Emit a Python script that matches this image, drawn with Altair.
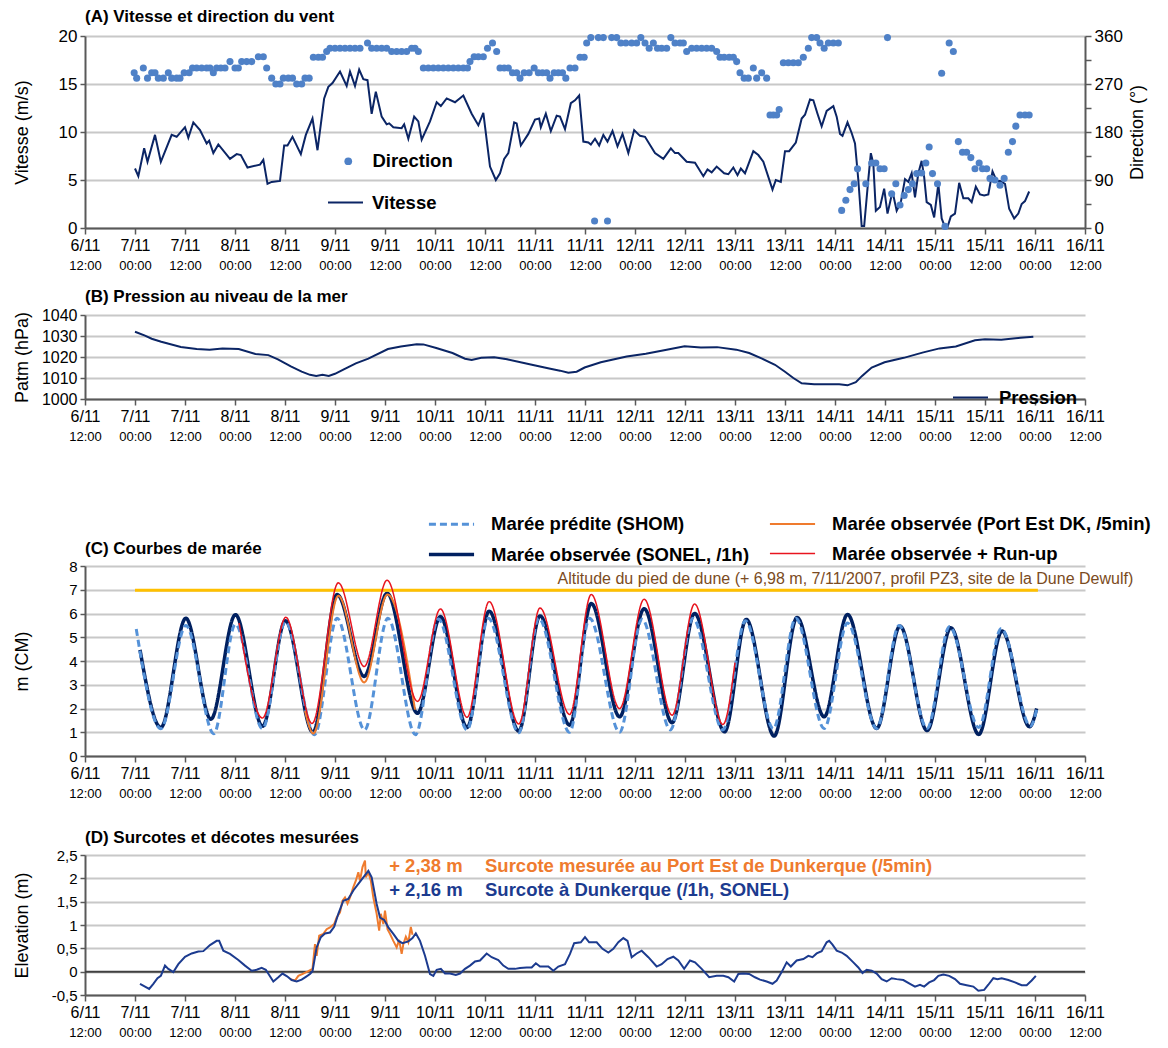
import altair as alt
import pandas as pd

FONT = "Liberation Sans"
W = 1000
AX = "#595959"
GRID = "#c8c8c8"

# ---------------- x ticks (hours since 6/11/2007 12:00) ----------------
tick_hours = list(range(0, 241, 12))

# ---------------- Panel A : wind ----------------
wind_h = [12, 12.8, 14.2, 15, 16.8, 18.2, 20.8, 22, 24, 24.8, 26, 27.6, 29.2, 29.8, 30.8, 32, 34.8, 36.4, 37.4, 39,
          42, 42.8, 43.8, 44.8, 46.8, 47.8, 48.6, 49.8, 51.8, 53, 54.6, 55.8, 57.4, 58.4, 59.4, 61.2, 62.8, 63.6,
          64.8, 65.8, 66.8, 67.8, 68.8, 69.8, 71.2, 72.4, 73, 74, 76, 76.6, 77.6, 79, 80, 80.8, 82.8, 84.4, 85.4,
          86.8, 88.8, 90.8, 92.8, 94.4, 95.6, 97.2, 98.6, 99.6, 100.6, 101.6, 103, 103.6, 104.6, 106.4, 108, 109,
          109.4, 110.6, 111.8, 113.2, 114, 115.2, 116.6, 117.6, 118.6, 119.6, 120.8, 121.4, 122.4, 123.4, 124.4,
          125.4, 126.6, 127.8, 129, 130.4, 131.8, 133.2, 134.4, 136.8, 138.8, 140.6, 141.6, 142.4, 144.4, 146.4,
          148.4, 149.4, 150.4, 151.6, 153.4, 154.4, 155.6, 156.6, 157.4, 158.4, 160.4, 161.6, 162.8, 165, 165.8,
          167, 168, 169, 170.6, 172, 172.8, 174, 174.8, 175.8, 176.8, 178, 179.6, 180.4, 181.2, 181.8, 183, 184,
          184.8, 185.6, 186.4, 187, 188, 188.6, 189.2, 189.8, 190.8, 191.8, 192.6, 193.8, 194.8, 195.8, 196.8,
          197.6, 198.4, 199.2, 200, 200.8, 201.4, 202, 203, 203.8, 204.8, 205.6, 206.4, 207, 207.8, 208.8, 209.8,
          210.8, 212, 212.8, 213.8, 214.8, 215.8, 216.8, 217.8, 218.8, 219.6, 220.8, 221.8, 223, 224, 224.8,
          225.6, 226.6]
wind_v = [6.2, 5.4, 8.3, 6.9, 9.7, 6.9, 9.7, 9.5, 10.5, 9.4, 11.0, 10.2, 8.8, 9.1, 7.8, 8.7, 7.2, 7.7, 7.6, 6.3,
          6.6, 7.1, 4.6, 4.8, 4.9, 8.6, 8.6, 9.5, 7.7, 9.7, 11.4, 8.1, 13.5, 14.7, 15.1, 16.3, 14.8, 16.3,
          14.8, 16.5, 15.5, 15.4, 11.9, 14.2, 11.6, 10.8, 10.9, 10.5, 10.4, 10.8, 9.3, 11.6, 11.1, 9.2, 11.1, 13.1,
          12.7, 13.5, 13.1, 13.8, 11.9, 10.7, 12.0, 6.4, 5.0, 5.7, 7.2, 7.8, 11.0, 10.9, 8.6, 9.8, 11.3, 11.4,
          10.5, 11.9, 10.1, 11.7, 11.6, 10.3, 13.0, 13.3, 13.8, 9.0, 8.9, 8.7, 9.3, 8.6, 9.7,
          9.0, 10.1, 8.5, 9.8, 7.8, 10.2, 9.6, 9.5, 7.8, 7.2, 8.3, 7.8, 7.8, 6.9, 6.8,
          5.4, 6.1, 5.8, 6.4, 5.7, 5.6, 6.3, 5.5, 6.2, 5.7, 8.0, 7.6, 6.9, 4.0, 5.0,
          4.8, 8.0, 8.0, 8.9, 11.4, 11.8, 13.4, 13.3, 11.9, 10.6, 12.2, 12.7, 11.6, 9.8, 9.6, 11.0, 9.9,
          8.8, 5.0, 0.2, 0.2, 5.1, 7.8, 6.7, 1.8, 2.2, 4.1, 1.5, 3.8, 1.8, 2.7, 5.1,
          4.8, 5.7, 3.2, 5.7, 7.0, 5.3, 2.7, 2.4, 1.1, 4.6, 1.0, 0.1, 0.1, 1.2, 1.5, 4.7,
          3.1, 3.1, 2.7, 4.3, 3.5, 3.4, 3.5, 5.9, 4.9, 4.9, 4.6, 2.0, 1.0, 1.5, 2.5,
          2.8, 3.8]

dir_h = [11.8, 12.4, 14, 15, 16, 16.8, 17.6, 18.8, 20, 20.8, 22, 22.8, 23.8, 25, 25.8, 26.8, 28, 29.2, 30, 30.8,
         31.6, 32.6, 33.6, 34.8, 36, 36.8, 37.6, 38.8, 40, 41.6, 42.8, 43.6, 44.8, 45.8, 46.8, 47.6, 48.8, 49.8,
         50.8, 52, 52.8, 53.8, 54.8, 56, 57, 58, 58.8, 60, 61.2, 62.4, 63.6, 64.8, 66, 67.8, 68.8, 70, 71.2, 72.4,
         73.6, 74.8, 76, 77.2, 78.4, 79.2, 80, 81.2, 82.4, 83.6, 84.8, 86, 87.2, 88.4, 89.6, 90.8, 91.8, 92.4,
         93.4, 94.4, 95.6, 96.6, 97.8, 98.8, 99.6, 100.6, 101.6, 102.6, 103.6, 104.4, 105.4, 106.6, 107.8, 108.8,
         109.8, 110.8, 111.6, 112.6, 113.6, 114.6, 115.4, 116.4, 117.6, 118.8, 119.8, 120.4, 121.4, 122.3, 123.2,
         124.4, 125.4, 126.4, 127.6, 128.6, 129.8, 131.2, 132.4, 133.4, 134.4, 135.4, 136.4, 137.4, 138.4, 139.6,
         140.6, 141.6, 142.8, 143.6, 144.4, 145.6, 146.8, 148, 149.2, 150.4, 151.6, 152.4, 153.4, 154.6, 155.6,
         156.4, 157.2, 158.2, 159.2, 160.4, 161.2, 162.4, 163.6, 164.4, 165.2, 166, 166.6, 167.6, 168.8, 170,
         171.2, 172.4, 173.6, 174.4, 175.6, 176.4, 177.4, 178.4, 179.6, 180.8, 181.6, 182.6, 183.6, 184.6, 185.4,
         187.4, 188.8, 189.8, 190.8, 191.8, 192.6, 193.6, 194.6, 195.6, 196.6, 197.6, 198.6, 199.6, 200.8, 201.8,
         202.6, 203.4, 204.6, 205.6, 206.4, 207.4, 208.4, 209.6, 210.6, 211.6, 212.6, 213.6, 214.6, 215.4, 216.4,
         217.2, 218.4, 219.6, 220.6, 221.6, 222.6, 223.4, 224.4, 225.6, 226.6]
dir_d = [291, 281, 300, 281, 291, 291, 281, 281, 291, 281, 281, 281, 291, 291, 300, 300, 300, 300, 300, 291,
         300, 300, 300, 312, 300, 300, 312, 312, 312, 321, 321, 300, 281, 270, 270, 281, 281, 281,
         270, 270, 281, 281, 320, 320, 320, 331, 337, 337, 337, 337, 337, 337, 337, 347, 337, 337, 337, 337,
         331, 331, 331, 331, 337, 337, 331, 300, 300, 300, 300, 300, 300, 300, 300, 300, 300, 312,
         321, 321, 321, 337, 347, 331, 300, 300, 300, 291, 291, 281, 291, 291, 300, 291,
         291, 291, 281, 291, 291, 291, 281, 300, 300, 320, 320, 347, 357, 13, 357,
         357, 13, 357, 357, 347, 347, 347, 347, 357, 347, 337, 347, 337, 337, 337,
         357, 347, 347, 347, 331, 337, 337, 337, 337, 337, 331, 320, 320, 320, 320,
         312, 291, 281, 281, 300, 281, 291, 281, 212, 212, 212, 222, 310, 310, 310,
         310, 320, 337, 357, 357, 347, 337, 347, 347, 347, 33, 52, 72, 83, 111,
         83, 122, 122, 111, 111, 357, 64, 83, 43, 61, 72, 83, 102, 103, 122,
         152, 102, 83, 290, 3, 347, 331, 162, 142, 142, 132, 111, 122, 111, 111,
         93, 90, 80, 93, 142, 162, 191, 212, 212, 212]

# ---------------- Panel B : pressure ----------------
pres_h = [12, 14.4, 16, 18.3, 23, 26.8, 29.9, 33, 36.9, 40.9, 44, 46.3, 49.4, 52, 54, 55.5, 57, 58.5, 60, 62, 65,
          68, 72.7, 75.8, 79.6, 81.2, 84.3, 88.2, 91.2, 92.8, 95.1, 98.2, 101.3, 106.7, 111.4, 114, 116, 118,
          119.9, 123.8, 130, 134.6, 139.3, 143.9, 147.8, 151.7, 156.3, 159.4, 162.5, 165.6, 168, 170, 172, 175,
          178, 181, 183, 185, 186.5, 188.8, 191.9, 196.5, 201.2, 205.1, 209, 213.6, 216, 219.9, 224.5, 227.6]
pres_p = [1032, 1030.2, 1028.7, 1027.3, 1024.8, 1023.8, 1023.5, 1024, 1023.8, 1021.4, 1020.9, 1018.9, 1015.5,
          1013, 1011.5, 1011, 1011.5, 1011, 1012, 1014, 1017, 1019.2, 1023.8, 1025, 1026.1, 1026, 1024.3, 1021.9,
          1019.2, 1018.6, 1019.6, 1019.9, 1018.9, 1016.5, 1014.5, 1013.5, 1012.5, 1013, 1015, 1017.5, 1020.2,
          1021.6, 1023.3, 1025.1, 1024.5, 1024.7, 1023.5, 1021.9, 1019.2, 1016.3, 1013, 1010, 1007.5, 1007, 1007,
          1007, 1006.5, 1008, 1011, 1015, 1017.5, 1019.6, 1022.2, 1024.1, 1025, 1028, 1028.4, 1028.2, 1029.2,
          1029.7]

# ---------------- Panel C : tides (extrema) ----------------
shom_h = [12.3, 18.2, 24.2, 30.9, 36.1, 42.6, 48.1, 55.1, 60.5, 67.1, 72.7, 79.3, 84.8, 91.7, 96.8, 104.1, 108.9,
          116.3, 121.1, 128.3, 133.7, 140.5, 145.9, 153.1, 158.5, 165.2, 170.6, 177.4, 183, 190, 195.4, 202.1,
          207.5, 214.5, 219.9, 226.9, 228.4]
shom_m = [5.35, 1.15, 5.5, 0.94, 5.55, 1.15, 5.65, 0.9, 5.8, 1.1, 5.8, 0.9, 5.77, 1.1, 5.8, 0.98, 5.8,
          1.0, 5.8, 1.0, 5.76, 1.1, 5.8, 1.1, 5.7, 1.15, 5.8, 1.16, 5.6, 1.16, 5.5, 1.16,
          5.45, 1.2, 5.37, 1.26, 1.96]
sonel_h = [13.2, 18.2, 24.2, 30.2, 36.1, 42.6, 48.1, 54.7, 60.5, 67, 72.5, 79.8, 85.3, 91.7, 97, 104.1, 109.2,
           116.3, 121.5, 128.3, 134.2, 140.9, 146.3, 153.5, 158.7, 165.4, 170.9, 177.4, 183, 190, 195.6, 202.1,
           207.8, 214.5, 220.1, 226.7, 228.4]
sonel_m = [4.47, 1.2, 5.8, 1.55, 5.95, 1.25, 5.7, 1.0, 6.8, 3.35, 6.85, 1.8, 5.87, 1.2, 6.1, 1.05, 5.9,
           1.3, 6.42, 1.65, 6.2, 1.4, 6.0, 1.02, 5.75, 0.84, 5.83, 1.65, 5.96, 1.16, 5.47, 1.07,
           5.4, 0.91, 5.26, 1.23, 2.0]
port_h = [52.8, 54.8, 60.8, 67, 72.6, 79.2]
port_m = [1.9, 0.95, 6.75, 3.1, 6.8, 1.95]
runup_h = [37, 42.6, 48.2, 54.5, 60.8, 67, 72.5, 79.8, 85.3, 91.7, 97, 104.1, 109.2, 116.3, 121.5, 128.3, 134.2,
           140.9, 146.3, 153.1, 156]
runup_m = [5.6, 1.6, 5.84, 1.37, 7.29, 3.77, 7.4, 2.3, 6.19, 1.63, 6.5, 1.35, 6.23, 1.75, 6.8, 2.0, 6.6,
           1.72, 6.4, 1.33, 3.93]
dune_start = [12]
dune_end = [228.7]
dune_level = [6.98]
dune_text = ["Altitude du pied de dune (+ 6,98 m, 7/11/2007, profil PZ3, site de la Dune Dewulf)"]
dune_text_h = [182.5]

# legend order (column-major in a 2-column legend)
tide_series = ["Marée prédite (SHOM)", "Marée observée (SONEL, /1h)",
               "Marée observée (Port Est DK, /5min)", "Marée observée + Run-up"]
tide_colors = ["#5592d8", "#002060", "#ef7b2e", "#e8141e"]
tide_dash = [[7, 4], [1, 0], [1, 0], [1, 0]]
tide_width = [3, 3.5, 2, 1.5]

# ---------------- Panel D : surges ----------------
surge_h = [13.2, 14.4, 15.4, 16.4, 17.4, 18.2, 19.2, 20, 21.2, 22.4, 24, 25.6, 27.2, 28.4, 30, 31.6, 32.2, 33.2,
           34.8, 36.8, 38.4, 40, 41.2, 42.4, 43.4, 44.2, 45.2, 46.4, 47.4, 48.5, 49.6, 50.8, 52, 53, 54, 54.6,
           55.6, 56.6, 57.6, 58.8, 59.8, 60.8, 62, 63.2, 64.4, 65.6, 66.8, 68, 68.8, 70, 70.8, 71.8, 72.8, 74,
           75.2, 76.2, 77.6, 78.6, 79.4, 80.4, 81.6, 82.8, 83.6, 84.4, 85.4, 86.4, 87.6, 89, 90, 91.2, 92.4, 93.6,
           94.8, 96.4, 97.6, 99.2, 100.4, 101.6, 103.2, 104.4, 106, 107.2, 108.2, 109.2, 111.2, 112.4, 113.6,
           115.2, 116.4, 117.4, 119, 120, 121, 122.8, 124.2, 125.6, 126.8, 128, 129.2, 130.2, 131.2, 132.4,
           133.6, 135.2, 137.2, 138.4, 139.8, 141.2, 142.4, 143.8, 145.2, 146.4, 148, 149.8, 151.6, 153.2, 154.4,
           155.8, 156.8, 158, 159.4, 160.8, 162, 163.6, 165, 166, 167.2, 168.4, 169.4, 170.8, 172.4, 173.6,
           174.6, 175.6, 176.8, 178, 178.6, 179.4, 180.4, 181.6, 182.8, 184.4, 185.6, 186.6, 187.6, 188.8, 190,
           191.2, 192.4, 193.6, 194.8, 196.4, 198, 199.2, 200.4, 201.4, 202.6, 203.8, 204.8, 206, 207.4, 208.8,
           210, 211.6, 213.2, 214.4, 215.8, 216.8, 218, 219, 220, 221.6, 223.2, 224.8, 226, 227.2, 228.2]
surge_e = [-0.26, -0.32, -0.37, -0.26, -0.14, -0.09, 0.13, 0.06, -0.01, 0.16, 0.32, 0.39, 0.43, 0.44, 0.57, 0.66,
           0.66, 0.45, 0.38, 0.25, 0.13, 0.02, 0.04, 0.08, 0.04, -0.07, -0.21, -0.12, -0.04, -0.1, -0.18, -0.21,
           -0.17, -0.11, -0.05, 0.01, 0.52, 0.74, 0.82, 0.84, 0.96, 1.24, 1.52, 1.56, 1.74, 1.88, 2.02, 2.16,
           2.02, 1.45, 1.16, 1.11, 0.95, 0.81, 0.66, 0.61, 0.65, 0.72, 0.82, 0.66, 0.34, -0.05, -0.09, 0.04,
           0.06, -0.04, -0.04, -0.07, -0.04, 0.06, 0.13, 0.22, 0.24, 0.39, 0.31, 0.25, 0.13, 0.06, 0.06, 0.08,
           0.09, 0.09, 0.18, 0.11, 0.11, 0.02, 0.11, 0.16, 0.38, 0.61, 0.63, 0.74, 0.63, 0.63, 0.49, 0.41, 0.49,
           0.63, 0.72, 0.66, 0.31, 0.39, 0.45, 0.31, 0.11, 0.16, 0.27, 0.32, 0.24, 0.06, 0.24, 0.2, 0.06, -0.12,
           -0.09, -0.09, -0.12, -0.21, -0.05, -0.04, -0.05, -0.12, -0.17, -0.21, -0.26, -0.19, -0.01, 0.2, 0.11,
           0.24, 0.27, 0.34, 0.31, 0.39, 0.44, 0.63, 0.66, 0.58, 0.45, 0.41, 0.34, 0.2, 0.09, -0.03, 0.04, 0.02,
           -0.04, -0.16, -0.21, -0.14, -0.16, -0.18, -0.26, -0.32, -0.28, -0.32, -0.23, -0.18, -0.09, -0.06,
           -0.09, -0.16, -0.26, -0.29, -0.32, -0.41, -0.39, -0.28, -0.14, -0.16, -0.14, -0.18, -0.23, -0.29,
           -0.29, -0.19, -0.09]
port_surge_h = [49.2, 50.4, 51.2, 52.4, 53.6, 54.6, 55.2, 55.6, 56.2, 57.2, 58, 58.8, 59.8, 60.4, 61.2, 61.8, 62.4,
                63, 63.6, 64.4, 65, 65.6, 66, 66.6, 67.2, 67.4, 68, 68.6, 69.2, 70, 70.6, 71, 71.6, 72, 72.6,
                73.2, 74, 74.8, 75.4, 76, 76.4, 77, 77.6, 78.2, 78.6]
port_surge_e = [-0.16, -0.19, -0.09, -0.04, 0.01, 0.06, 0.59, 0.34, 0.77, 0.81, 0.91, 0.95, 1.02, 1.16, 1.27, 1.52,
                1.59, 1.46, 1.59, 1.81, 1.95, 2.13, 1.95, 2.24, 2.38, 2.02, 2.13, 1.95, 1.59, 1.24, 0.88, 1.24,
                1.02, 1.31, 0.91, 0.81, 0.66, 0.52, 0.68, 0.38, 0.59, 0.75, 0.63, 0.96, 0.79]
ann_d_text = ["+ 2,38 m", "Surcote mesurée au Port Est de Dunkerque (/5min)", "+ 2,16 m",
              "Surcote à Dunkerque (/1h, SONEL)"]
ann_d_h = [73.0, 96.0, 73.0, 96.0]
ann_d_e = [2.26, 2.26, 1.74, 1.74]
ann_d_color = ["#ef7b2e", "#ef7b2e", "#1c3b8f", "#1c3b8f"]

# ---------------- helpers ----------------
xscale = alt.Scale(domain=[0, 240], nice=False, zero=False)
DATE_EXPR = "(6 + floor((datum.value + 12) / 24)) + '/11'"
TIME_EXPR = "datum.value % 24 == 0 ? '12:00' : '00:00'"


def x_date_axis():
    return alt.Axis(values=tick_hours, labelExpr=DATE_EXPR, title=None, grid=False, orient="bottom",
                    domainColor=AX, domainWidth=2, tickColor=AX, tickWidth=1.5, tickSize=6,
                    labelFontSize=16, labelPadding=3, labelFlush=False, labelOverlap=False)


def time_layer(space=0):
    df = pd.DataFrame({"h": tick_hours})
    kw = dict(values=tick_hours, labelExpr=TIME_EXPR, grid=False, orient="bottom",
              domain=False, ticks=False, tickSize=0, labelFontSize=13, labelPadding=31,
              labelFlush=False, labelOverlap=False)
    if space:
        kw.update(title="\u00a0", titleFontSize=1, titlePadding=space)
    else:
        kw.update(title=None)
    return alt.Chart(df).mark_point(opacity=0).encode(
        x=alt.X("h:Q", scale=xscale, axis=alt.Axis(**kw)))


def y_axis(values, title, label_size=16, label_expr=None, grid=True, fmt=None):
    kw = dict(values=values, title=title, grid=grid, gridColor=GRID, gridWidth=2, orient="left",
              domainColor=AX, domainWidth=2, tickColor=AX, tickWidth=1.5, tickSize=5,
              labelFontSize=label_size, labelPadding=3, labelOverlap=False, labelFlush=False,
              titleFontSize=18, titleFontWeight="normal",
              titleAngle=270, titleX=-58, titleBaseline="alphabetic")
    if label_expr:
        kw["labelExpr"] = label_expr
    if fmt:
        kw["format"] = fmt
    return alt.Axis(**kw)


def ptitle(text, offset=1):
    return alt.TitleParams(text=text, anchor="start", frame="group", fontSize=17, fontWeight="bold",
                           font=FONT, offset=offset, color="black")


# ---------------- Panel A ----------------
dfw = pd.DataFrame({"h": wind_h, "v": wind_v, "s": "Vitesse"})
dfd = pd.DataFrame({"h": dir_h, "d": dir_d, "s": "Direction"})

line_a = alt.Chart(dfw).mark_line(strokeWidth=2).encode(
    x=alt.X("h:Q", scale=xscale, axis=x_date_axis()),
    y=alt.Y("v:Q", scale=alt.Scale(domain=[0, 20], nice=False),
            axis=y_axis([0, 5, 10, 15, 20], "Vitesse (m/s)", label_size=17)),
    stroke=alt.Stroke("s:N", scale=alt.Scale(domain=["Vitesse"], range=["#0b2565"]),
                      legend=alt.Legend(orient="none", legendX=242, legendY=148, title=None, symbolType="stroke",
                                        symbolSize=1225, symbolStrokeWidth=2, labelFontSize=18.5,
                                        labelFontWeight="bold", labelOffset=8, padding=0)),
)
pts_a = alt.Chart(dfd).mark_circle(size=50, opacity=1).encode(
    x=alt.X("h:Q", scale=xscale, axis=None),
    y=alt.Y("d:Q", scale=alt.Scale(domain=[0, 360], nice=False),
            axis=alt.Axis(orient="right", values=list(range(0, 361, 45)),
                          labelExpr="datum.value % 90 == 0 ? datum.value : ''", title="Direction (°)", grid=False,
                          domainColor=AX, domainWidth=2, tickColor=AX, tickWidth=1.5, tickSize=6,
                          labelFontSize=17, labelPadding=3, labelOverlap=False, labelFlush=False,
                          titleFontSize=18, titleFontWeight="normal",
                          titleAngle=270, titleX=57, titleBaseline="alphabetic")),
    color=alt.Color("s:N", scale=alt.Scale(domain=["Direction"], range=["#4f81c7"]),
                    legend=alt.Legend(orient="none", legendX=254, legendY=116, title=None, symbolType="circle",
                                      symbolSize=60, labelFontSize=18.5, labelFontWeight="bold", labelOffset=15,
                                      padding=0)),
)
panel_a = alt.layer(line_a, pts_a, time_layer()).resolve_scale(y="independent").resolve_axis(
    x="independent").properties(width=W, height=192, title=ptitle("(A) Vitesse et direction du vent"))

# ---------------- Panel B ----------------
dfp = pd.DataFrame({"h": pres_h, "p": pres_p, "s": "Pression"})
line_b = alt.Chart(dfp).mark_line(strokeWidth=2).encode(
    x=alt.X("h:Q", scale=xscale, axis=x_date_axis()),
    y=alt.Y("p:Q", scale=alt.Scale(domain=[1000, 1040], nice=False, zero=False),
            axis=y_axis([1000, 1010, 1020, 1030, 1040], "Patm (hPa)", label_size=16, fmt="d")),
    stroke=alt.Stroke("s:N", scale=alt.Scale(domain=["Pression"], range=["#0b2565"]),
                      legend=alt.Legend(orient="none", legendX=867, legendY=64, title=None, symbolType="stroke",
                                        symbolSize=1225, symbolStrokeWidth=2, labelFontSize=18.5,
                                        labelFontWeight="bold", labelOffset=10, padding=0)),
)
panel_b = alt.layer(line_b, time_layer(space=44)).resolve_axis(x="independent").properties(
    width=W, height=84, title=ptitle("(B) Pression au niveau de la mer"))

# ---------------- Panel C ----------------
tide_df = pd.concat([
    pd.DataFrame({"h": shom_h, "m": shom_m, "s": tide_series[0]}),
    pd.DataFrame({"h": sonel_h, "m": sonel_m, "s": tide_series[1]}),
    pd.DataFrame({"h": port_h, "m": port_m, "s": tide_series[2]}),
    pd.DataFrame({"h": runup_h, "m": runup_m, "s": tide_series[3]}),
], ignore_index=True)

leg_c = alt.Legend(orient="none", legendX=346, legendY=-62, title=None, columns=2,
                   symbolType="M-1.22,0L1.22,0", symbolSize=1369, labelFontSize=18.5, labelFontWeight="bold",
                   labelOffset=19, padding=0, columnPadding=15, rowPadding=0, labelLimit=500)
c_color = alt.Color("s:N", scale=alt.Scale(domain=tide_series, range=tide_colors), legend=leg_c)
c_dash = alt.StrokeDash("s:N", scale=alt.Scale(domain=tide_series, range=tide_dash), legend=leg_c)
c_width = alt.StrokeWidth("s:N", scale=alt.Scale(type="ordinal", domain=tide_series, range=tide_width), legend=leg_c)
c_yscale = alt.Scale(domain=[0, 8], nice=False)
c_yaxis = y_axis(list(range(0, 9)), "m (CM)", label_size=15)


def c_y():
    return alt.Y("m:Q", scale=c_yscale, axis=c_yaxis)


def tide_layer(name, first=False):
    return alt.Chart(tide_df).transform_filter(alt.datum.s == name).mark_line(interpolate="monotone").encode(
        x=alt.X("h:Q", scale=xscale, axis=x_date_axis() if first else None),
        y=c_y(), color=c_color, strokeDash=c_dash, strokeWidth=c_width)


dune_df = pd.DataFrame({"h": dune_start, "h2": dune_end, "m": dune_level})
dune_rule = alt.Chart(dune_df).mark_rule(color="#ffc000", strokeWidth=3).encode(
    x=alt.X("h:Q", scale=xscale, axis=None), x2="h2:Q", y=c_y())
dune_lbl = alt.Chart(pd.DataFrame({"h": dune_text_h, "m": dune_level, "t": dune_text})).mark_text(
    align="center", baseline="bottom", dy=-3, fontSize=16, font=FONT, color="#7b4b22").encode(
    x=alt.X("h:Q", scale=xscale, axis=None), y=c_y(), text="t:N")

panel_c = alt.layer(
    tide_layer(tide_series[1], first=True),
    dune_rule,
    tide_layer(tide_series[0]),
    tide_layer(tide_series[2]),
    tide_layer(tide_series[3]),
    dune_lbl,
    time_layer(space=12),
).resolve_axis(x="independent").properties(width=W, height=190, title=ptitle("(C) Courbes de marée", offset=-54))

# ---------------- Panel D ----------------
dfs = pd.DataFrame({"h": surge_h, "e": surge_e})
dfo = pd.DataFrame({"h": port_surge_h, "e": port_surge_e})
y_d_scale = alt.Scale(domain=[-0.5, 2.5], nice=False, zero=False)
d_yaxis = y_axis([-0.5, 0, 0.5, 1, 1.5, 2, 2.5], "Elevation (m)", label_size=15,
                 label_expr="replace(toString(datum.value), '.', ',')")


def d_y():
    return alt.Y("e:Q", scale=y_d_scale, axis=d_yaxis)


zero_rule = alt.Chart(pd.DataFrame({"e": [0]})).mark_rule(color="#404040", strokeWidth=2).encode(y=d_y())
orange_d = alt.Chart(dfo).mark_line(color="#ef7b2e", strokeWidth=2).encode(
    x=alt.X("h:Q", scale=xscale, axis=x_date_axis()), y=d_y())
blue_d = alt.Chart(dfs).mark_line(color="#1c3b8f", strokeWidth=2).encode(
    x=alt.X("h:Q", scale=xscale, axis=None), y=d_y())
ann_d = alt.Chart(pd.DataFrame({"h": ann_d_h, "e": ann_d_e, "t": ann_d_text, "c": ann_d_color})).mark_text(
    align="left", baseline="middle", fontSize=18.5, fontWeight="bold", font=FONT).encode(
    x=alt.X("h:Q", scale=xscale, axis=None), y=d_y(), text="t:N",
    color=alt.Color("c:N", scale=None))
panel_d = alt.layer(zero_rule, orange_d, blue_d, ann_d, time_layer()).resolve_axis(x="independent").properties(
    width=W, height=140, title=ptitle("(D) Surcotes et décotes mesurées"))

IND = dict(color="independent", stroke="independent", strokeDash="independent", strokeWidth="independent")
chart = alt.vconcat(panel_a, panel_b, panel_c, panel_d, spacing=16).resolve_scale(**IND).configure(
    font=FONT).configure_view(stroke=None).configure_axis(
    labelFont=FONT, titleFont=FONT, labelColor="black", titleColor="black").configure_legend(
    labelFont=FONT, labelColor="black").properties(padding={"left": 5, "top": 0, "right": 2, "bottom": 5})

chart.save("out.html", embed_options={"renderer": "svg", "actions": False})
